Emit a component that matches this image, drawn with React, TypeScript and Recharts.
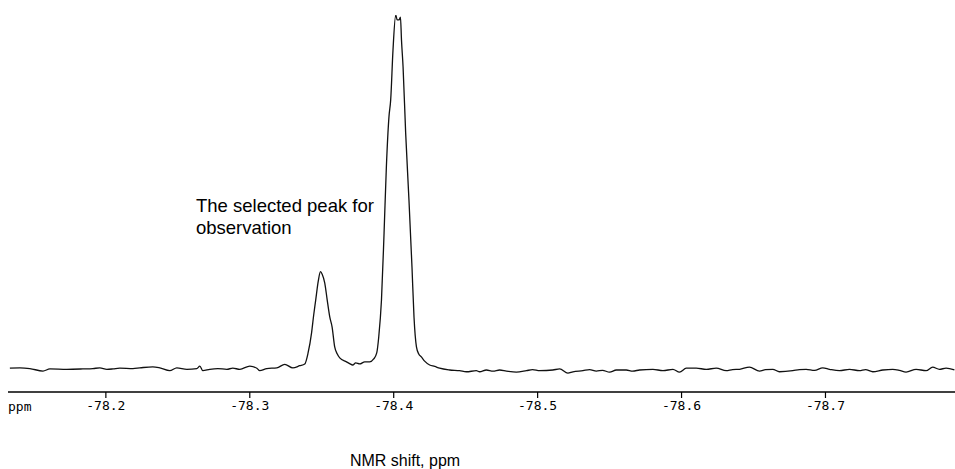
import { LineChart, Line, XAxis, YAxis, Customized } from "recharts";

// chemical shift (ppm), read left to right off the plot
const SHIFT = [
  -78.1333, -78.1403, -78.1472, -78.1563, -78.1611, -78.1729, -78.184, -78.191,
  -78.1958, -78.2007, -78.2049, -78.2097, -78.2188, -78.2236, -78.2326, -78.2375,
  -78.2444, -78.2493, -78.2563, -78.2632, -78.2653, -78.2674, -78.2722, -78.2778,
  -78.284, -78.2882, -78.2931, -78.3, -78.3049, -78.3069, -78.3118, -78.3188,
  -78.3243, -78.3299, -78.3347, -78.3382,
  // small peak
  -78.3405, -78.3429, -78.3444, -78.3458, -78.3476, -78.3491, -78.3503, -78.3521,
  -78.3538, -78.3556, -78.3572, -78.359, -78.3608, -78.3625, -78.3672, -78.3694,
  -78.3715, -78.3736, -78.3764, -78.3799, -78.3833, -78.3861, -78.3882,
  // main peak
  -78.3896, -78.3915, -78.3933, -78.3949, -78.3967, -78.3979, -78.3995, -78.4014,
  -78.4024, -78.4037, -78.4047, -78.4054, -78.4065, -78.4083, -78.4106, -78.4127,
  -78.4141, -78.4158, -78.4174, -78.4192, -78.4215, -78.425, -78.4285, -78.4319,
  // baseline to the right
  -78.4389, -78.4458, -78.4505, -78.4574, -78.4597, -78.4644, -78.469, -78.4736,
  -78.4783, -78.4852, -78.4922, -78.4965, -78.5014, -78.5106, -78.5153, -78.521,
  -78.5245, -78.5315, -78.5361, -78.5408, -78.5451, -78.55, -78.5547, -78.5616,
  -78.566, -78.5708, -78.5801, -78.5871, -78.594, -78.5986, -78.6033, -78.6102,
  -78.6172, -78.6241, -78.631, -78.6354, -78.6403, -78.6472, -78.6542, -78.6583,
  -78.6634, -78.668, -78.6773, -78.6819, -78.6866, -78.6924, -78.6981, -78.7028,
  -78.7097, -78.7167, -78.7236, -78.7278, -78.7329, -78.7399, -78.7467, -78.7514,
  -78.756, -78.763, -78.7699, -78.7745, -78.7792, -78.7838, -78.7896,
];

// signal intensity, arbitrary units (main peak top = 100)
const INTENSITY = [
  0.5, 0.6, 0.4, -0.3, 0.3, 0.2, 0.3, 0.4,
  0.6, 0.2, 0.3, 0.5, 0.4, 0.6, 0.9, 0.6,
  -0.2, 0.6, 0.2, 0.4, 1.1, -0.2, 0.2, 0.4,
  0.2, 0.5, 0.2, 1.1, 0.5, -0.2, 0.4, 0.6,
  1.6, 0.6, 1.2, 1.7,
  4.8, 10.4, 15.5, 19.7, 25.1, 27.7, 27.0, 24.5,
  19.7, 14.9, 12.1, 6.5, 4.5, 3.4, 2.3, 1.8,
  1.4, 2.0, 1.7, 2.3, 2.3, 3.1, 4.8,
  9.3, 19.7, 38.6, 57.2, 71.3, 76.1, 90.1, 100,
  98.6, 98.6, 99.4, 93.0, 85.4, 66.8, 47.9, 29.0,
  14.9, 6.5, 4.5, 3.7, 2.5, 1.4, 1.0, 0.5,
  0, -0.2, -0.5, -0.2, -0.5, 0, -0.3, 0,
  -0.3, -0.6, -0.2, 0.1, -0.2, 0, 0.3, -0.9,
  -0.5, -0.2, 0.1, -0.3, -0.1, -0.6, 0, 0,
  -0.3, 0, 0.2, -0.2, 0.2, -0.6, 0.5, 0.5,
  0.2, 0.5, -0.2, 0.1, 0.2, 0.8, -0.3, 0.1,
  0.2, -0.5, -0.2, 0.1, 0.2, -0.1, 0.6, 0.2,
  -0.2, 0.2, -0.2, 0.1, -0.5, 0, 0.2, -0.1,
  -0.6, 0.2, -0.2, 0.8, 0.2, 0.5, 0,
];

const TICKS = [-78.2, -78.3, -78.4, -78.5, -78.6, -78.7];

const data = SHIFT.map((shift, i) => ({ shift, intensity: INTENSITY[i] }));

const MONO = "'DejaVu Sans Mono', monospace";
const SANS = "'Liberation Sans', Arial, sans-serif";

function Annotations() {
  return (
    <g>
      <text x={8} y={411} fontFamily={MONO} fontSize={13} fill="#000">
        ppm
      </text>
      <text x={196} y={212} fontFamily={SANS} fontSize={18.5} fill="#000">
        The selected peak for
      </text>
      <text x={196} y={233.5} fontFamily={SANS} fontSize={18.5} fill="#000">
        observation
      </text>
      <text x={405} y={466} fontFamily={SANS} fontSize={16} fill="#000" textAnchor="middle">
        NMR shift, ppm
      </text>
    </g>
  );
}

export default function App() {
  return (
    <div style={{ position: "absolute", left: 0, top: 0, width: 955, height: 469, background: "#fff" }}>
      <LineChart
        width={955}
        height={469}
        data={data}
        margin={{ top: 15, right: 0, left: 8, bottom: 47 }}
      >
        <XAxis
          dataKey="shift"
          type="number"
          domain={[-78.79, -78.132]}
          reversed
          allowDataOverflow
          ticks={TICKS}
          interval={0}
          tickFormatter={(v: number) => v.toFixed(1)}
          tickSize={6}
          tickMargin={3}
          height={30}
          axisLine={{ stroke: "#000", strokeWidth: 1.5 }}
          tickLine={{ stroke: "#000", strokeWidth: 1.2 }}
          tick={{ fill: "#000", fontFamily: MONO, fontSize: 13 }}
        />
        <YAxis hide domain={[-6.2, 100]} allowDataOverflow />
        <Line
          type="monotoneX"
          dataKey="intensity"
          stroke="#111"
          strokeWidth={1.3}
          dot={false}
          isAnimationActive={false}
        />
        <Customized component={<Annotations />} />
      </LineChart>
    </div>
  );
}
